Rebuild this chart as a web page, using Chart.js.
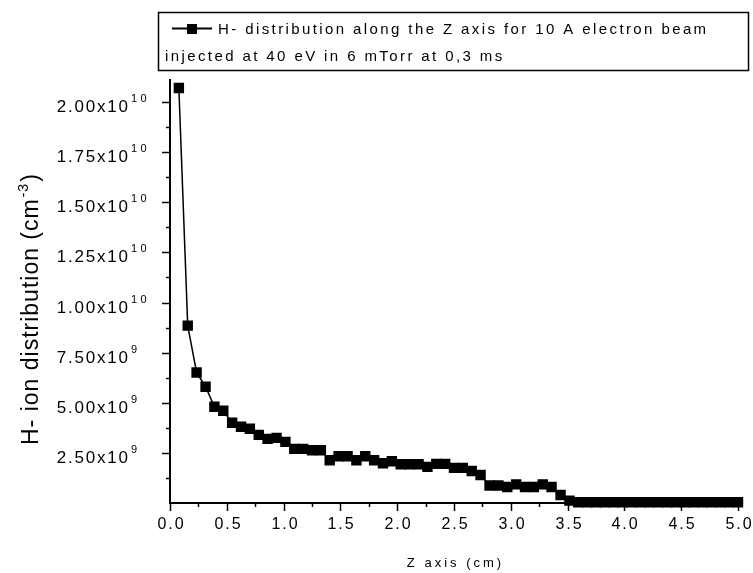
<!DOCTYPE html>
<html>
<head>
<meta charset="utf-8">
<script src="https://cdn.jsdelivr.net/npm/chart.js@4"></script>
<style>
  body { margin: 0; background: #fff; }
  canvas { display: block; }
</style>
</head>
<body>
<canvas id="hChart" width="753" height="573"></canvas>
<script>
// Z position (cm)
const zPositions = [
  0.078, 0.156, 0.234, 0.313, 0.391, 0.469, 0.547, 0.625, 0.703, 0.781,
  0.859, 0.938, 1.016, 1.094, 1.172, 1.25, 1.328, 1.406, 1.484, 1.563,
  1.641, 1.719, 1.797, 1.875, 1.953, 2.031, 2.109, 2.188, 2.266, 2.344,
  2.422, 2.5, 2.578, 2.656, 2.734, 2.813, 2.891, 2.969, 3.047, 3.125,
  3.203, 3.281, 3.359, 3.438, 3.516, 3.594, 3.672, 3.75, 3.828, 3.906,
  3.984, 4.063, 4.141, 4.219, 4.297, 4.375, 4.453, 4.531, 4.609, 4.688,
  4.766, 4.844, 4.922, 5.0
];
// H- density (cm^-3)
const hDensity = [
  2.07e10, 8.85e9, 6.51e9, 5.8e9, 4.8e9, 4.6e9, 4.0e9, 3.8e9, 3.7e9, 3.4e9,
  3.2e9, 3.25e9, 3.05e9, 2.7e9, 2.7e9, 2.63e9, 2.63e9, 2.13e9, 2.33e9, 2.33e9,
  2.13e9, 2.33e9, 2.13e9, 1.98e9, 2.08e9, 1.93e9, 1.93e9, 1.93e9, 1.8e9, 1.95e9,
  1.95e9, 1.75e9, 1.75e9, 1.6e9, 1.4e9, 8.7e8, 8.7e8, 8.0e8, 9.3e8, 8.0e8,
  8.0e8, 9.3e8, 8.0e8, 4.0e8, 1.2e8, 4e7, 4e7, 4e7, 4e7, 4e7,
  4e7, 4e7, 4e7, 4e7, 4e7, 4e7, 4e7, 4e7, 4e7, 4e7,
  4e7, 4e7, 4e7, 4e7
];

const xTickValues = [0, 0.5, 1.0, 1.5, 2.0, 2.5, 3.0, 3.5, 4.0, 4.5, 5.0];
const xTickLabels = ['0.0', '0.5', '1.0', '1.5', '2.0', '2.5', '3.0', '3.5', '4.0', '4.5', '5.0'];
const yTickValues = [2.5e9, 5e9, 7.5e9, 1e10, 1.25e10, 1.5e10, 1.75e10, 2e10];
const yTickMantissa = ['2.50', '5.00', '7.50', '1.00', '1.25', '1.50', '1.75', '2.00'];
const yTickExponent = ['9', '9', '9', '10', '10', '10', '10', '10'];

const seriesLabel = ['H- distribution along the Z axis for 10 A electron beam',
                     'injected at 40 eV in 6 mTorr at 0,3 ms'];

const FONT = '"Liberation Sans", Arial, sans-serif';

// texte avec espacement des lettres, renvoie la largeur
function spaced(ctx, str, x, y, size, spacing, align) {
  ctx.font = size + 'px ' + FONT;
  ctx.letterSpacing = spacing + 'px';
  const w = ctx.measureText(str).width - spacing;
  let x0 = x;
  if (align === 'right') x0 = x - w;
  if (align === 'center') x0 = x - w / 2;
  ctx.textAlign = 'left';
  ctx.fillText(str, x0, y);
  return w;
}

const originLook = {
  id: 'originLook',
  afterDraw(chart) {
    const ctx = chart.ctx;
    const xs = chart.scales.x;
    const ys = chart.scales.y;
    const area = chart.chartArea;
    ctx.save();
    ctx.fillStyle = '#000';
    ctx.strokeStyle = '#000';
    ctx.lineWidth = 1.5;
    ctx.textBaseline = 'alphabetic';

    // graduations X (majeures + mineures)
    xTickValues.forEach((v, i) => {
      const px = Math.round(xs.getPixelForValue(v)) + 0.5;
      ctx.beginPath();
      ctx.moveTo(px, area.bottom);
      ctx.lineTo(px, area.bottom + 8);
      ctx.stroke();
      if (i < xTickValues.length - 1) {
        const pm = Math.round(xs.getPixelForValue(v + 0.25)) + 0.5;
        ctx.beginPath();
        ctx.moveTo(pm, area.bottom);
        ctx.lineTo(pm, area.bottom + 4);
        ctx.stroke();
      }
      spaced(ctx, xTickLabels[i], px, area.bottom + 26, 16, 2, 'center');
    });

    // graduations Y
    [0].concat(yTickValues).forEach(v => {
      const pm = Math.round(ys.getPixelForValue(v + 1.25e9)) + 0.5;
      if (pm > area.top) {
        ctx.beginPath();
        ctx.moveTo(area.left, pm);
        ctx.lineTo(area.left - 4, pm);
        ctx.stroke();
      }
    });
    yTickValues.forEach((v, i) => {
      const py = Math.round(ys.getPixelForValue(v)) + 0.5;
      ctx.beginPath();
      ctx.moveTo(area.left, py);
      ctx.lineTo(area.left - 8, py);
      ctx.stroke();
      spaced(ctx, yTickMantissa[i] + 'x10', 128, py + 9.5, 17, 1.8, 'right');
      spaced(ctx, yTickExponent[i], 131, py - 1, 11, 3.5, 'left');
    });

    // titre axe X
    spaced(ctx, 'Z axis (cm)', (area.left + area.right) / 2, 567, 13, 3, 'center');

    // titre axe Y (vertical)
    ctx.save();
    ctx.translate(38, 445);
    ctx.rotate(-Math.PI / 2);
    let w = spaced(ctx, 'H- ion distribution (cm', 0, 0, 23, 1, 'left');
    w += 2;
    w += spaced(ctx, '-3', w, -10, 14, 1, 'left') + 2;
    spaced(ctx, ')', w, 0, 23, 1, 'left');
    ctx.restore();

    // légende encadrée
    ctx.lineWidth = 1.5;
    ctx.strokeRect(158.5, 12.5, 590, 58);
    ctx.lineWidth = 2;
    ctx.beginPath();
    ctx.moveTo(172, 28.5);
    ctx.lineTo(212, 28.5);
    ctx.stroke();
    ctx.fillRect(187, 24, 10, 10);
    spaced(ctx, seriesLabel[0], 218, 34, 15, 2.4, 'left');
    spaced(ctx, seriesLabel[1], 165, 61, 15, 2.4, 'left');

    ctx.restore();
  }
};

const ctx = document.getElementById('hChart').getContext('2d');
const hChart = new Chart(ctx, {
  type: 'line',
  data: {
    datasets: [{
      label: seriesLabel.join(' '),
      data: zPositions.map((z, i) => ({ x: z, y: hDensity[i] })),
      borderColor: '#000',
      backgroundColor: '#000',
      borderWidth: 1.5,
      pointStyle: 'rect',
      pointRadius: 6.3,
      pointHoverRadius: 6.3,
      tension: 0,
      clip: false
    }]
  },
  options: {
    responsive: false,
    animation: false,
    events: [],
    layout: { padding: { left: 162, right: 15, top: 80, bottom: 62 } },
    plugins: { legend: { display: false }, tooltip: { enabled: false } },
    scales: {
      x: {
        type: 'linear',
        min: 0,
        max: 5,
        grid: { display: false },
        ticks: { display: false },
        border: { display: true, color: '#000', width: 2 }
      },
      y: {
        type: 'linear',
        min: 0,
        max: 2.11e10,
        grid: { display: false },
        ticks: { display: false },
        border: { display: true, color: '#000', width: 2 }
      }
    }
  },
  plugins: [originLook]
});
</script>
</body>
</html>
